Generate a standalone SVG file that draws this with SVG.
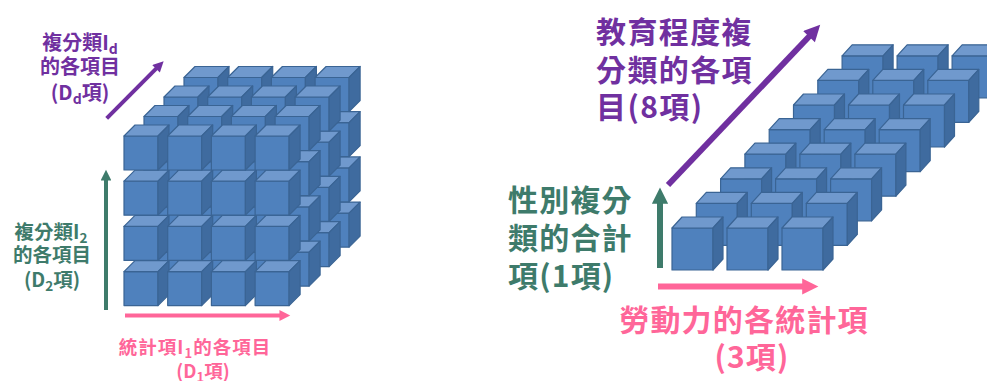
<svg xmlns="http://www.w3.org/2000/svg" width="987" height="381" viewBox="0 0 987 381">
<style>
.front{fill:#4F81BD}
.top{fill:#7099CD}
.side{fill:#3F6B9F}
.cube *{stroke:#3A6494;stroke-width:1.2;stroke-linejoin:round}
.t{font-family:"Noto Sans CJK TC","Noto Sans CJK SC",sans-serif;font-weight:700}
.purple{fill:#7030A0}
.green{fill:#3E7B6B}
.pink{fill:#FF6699}
</style>
<defs>
<g id="cubeL" class="cube">
<rect class="front" x="0" y="0" width="34" height="34"/>
<polygon class="top" points="0,0 11,-11 45,-11 34,0"/>
<polygon class="side" points="34,0 45,-11 45,23 34,34"/>
</g>
<g id="cubeR" class="cube">
<rect class="front" x="0" y="0" width="41" height="42"/>
<polygon class="top" points="0,0 10,-11 51,-11 41,0"/>
<polygon class="side" points="41,0 51,-11 51,31 41,42"/>
</g>
<marker id="ahP" viewBox="0 0 10 10" refX="0.5" refY="5" markerWidth="3" markerHeight="2.7" orient="auto"><path d="M0,0 L10,5 L0,10 z" fill="#7030A0"/></marker>
<marker id="ahG" viewBox="0 0 10 10" refX="0.5" refY="5" markerWidth="3" markerHeight="2.7" orient="auto"><path d="M0,0 L10,5 L0,10 z" fill="#3E7B6B"/></marker>
<marker id="ahK" viewBox="0 0 10 10" refX="0.5" refY="5" markerWidth="3" markerHeight="2.7" orient="auto"><path d="M0,0 L10,5 L0,10 z" fill="#FF6699"/></marker>
</defs>

<g id="cube-4x4x4">
<!-- layer 3 -->
<use href="#cubeL" x="184" y="213.1"/><use href="#cubeL" x="227.7" y="213.1"/><use href="#cubeL" x="271.4" y="213.1"/><use href="#cubeL" x="315.1" y="213.1"/>
<use href="#cubeL" x="184" y="167.9"/><use href="#cubeL" x="227.7" y="167.9"/><use href="#cubeL" x="271.4" y="167.9"/><use href="#cubeL" x="315.1" y="167.9"/>
<use href="#cubeL" x="184" y="122.7"/><use href="#cubeL" x="227.7" y="122.7"/><use href="#cubeL" x="271.4" y="122.7"/><use href="#cubeL" x="315.1" y="122.7"/>
<use href="#cubeL" x="184" y="77.5"/><use href="#cubeL" x="227.7" y="77.5"/><use href="#cubeL" x="271.4" y="77.5"/><use href="#cubeL" x="315.1" y="77.5"/>
<!-- layer 2 -->
<use href="#cubeL" x="164" y="232.6"/><use href="#cubeL" x="207.7" y="232.6"/><use href="#cubeL" x="251.4" y="232.6"/><use href="#cubeL" x="295.1" y="232.6"/>
<use href="#cubeL" x="164" y="187.4"/><use href="#cubeL" x="207.7" y="187.4"/><use href="#cubeL" x="251.4" y="187.4"/><use href="#cubeL" x="295.1" y="187.4"/>
<use href="#cubeL" x="164" y="142.2"/><use href="#cubeL" x="207.7" y="142.2"/><use href="#cubeL" x="251.4" y="142.2"/><use href="#cubeL" x="295.1" y="142.2"/>
<use href="#cubeL" x="164" y="97"/><use href="#cubeL" x="207.7" y="97"/><use href="#cubeL" x="251.4" y="97"/><use href="#cubeL" x="295.1" y="97"/>
<!-- layer 1 -->
<use href="#cubeL" x="144" y="252.1"/><use href="#cubeL" x="187.7" y="252.1"/><use href="#cubeL" x="231.4" y="252.1"/><use href="#cubeL" x="275.1" y="252.1"/>
<use href="#cubeL" x="144" y="206.9"/><use href="#cubeL" x="187.7" y="206.9"/><use href="#cubeL" x="231.4" y="206.9"/><use href="#cubeL" x="275.1" y="206.9"/>
<use href="#cubeL" x="144" y="161.7"/><use href="#cubeL" x="187.7" y="161.7"/><use href="#cubeL" x="231.4" y="161.7"/><use href="#cubeL" x="275.1" y="161.7"/>
<use href="#cubeL" x="144" y="116.5"/><use href="#cubeL" x="187.7" y="116.5"/><use href="#cubeL" x="231.4" y="116.5"/><use href="#cubeL" x="275.1" y="116.5"/>
<!-- layer 0 (front) -->
<use href="#cubeL" x="124" y="271.6"/><use href="#cubeL" x="167.7" y="271.6"/><use href="#cubeL" x="211.4" y="271.6"/><use href="#cubeL" x="255.1" y="271.6"/>
<use href="#cubeL" x="124" y="226.4"/><use href="#cubeL" x="167.7" y="226.4"/><use href="#cubeL" x="211.4" y="226.4"/><use href="#cubeL" x="255.1" y="226.4"/>
<use href="#cubeL" x="124" y="181.2"/><use href="#cubeL" x="167.7" y="181.2"/><use href="#cubeL" x="211.4" y="181.2"/><use href="#cubeL" x="255.1" y="181.2"/>
<use href="#cubeL" x="124" y="136"/><use href="#cubeL" x="167.7" y="136"/><use href="#cubeL" x="211.4" y="136"/><use href="#cubeL" x="255.1" y="136"/>
</g>

<g id="slab-3x1x8">
<use href="#cubeR" x="842.1" y="55.8"/><use href="#cubeR" x="897.1" y="55.8"/><use href="#cubeR" x="952.1" y="55.8"/>
<use href="#cubeR" x="817.8" y="80.4"/><use href="#cubeR" x="872.8" y="80.4"/><use href="#cubeR" x="927.8" y="80.4"/>
<use href="#cubeR" x="793.5" y="105"/><use href="#cubeR" x="848.5" y="105"/><use href="#cubeR" x="903.5" y="105"/>
<use href="#cubeR" x="769.2" y="129.6"/><use href="#cubeR" x="824.2" y="129.6"/><use href="#cubeR" x="879.2" y="129.6"/>
<use href="#cubeR" x="744.9" y="154.2"/><use href="#cubeR" x="799.9" y="154.2"/><use href="#cubeR" x="854.9" y="154.2"/>
<use href="#cubeR" x="720.6" y="178.8"/><use href="#cubeR" x="775.6" y="178.8"/><use href="#cubeR" x="830.6" y="178.8"/>
<use href="#cubeR" x="696.3" y="203.4"/><use href="#cubeR" x="751.3" y="203.4"/><use href="#cubeR" x="806.3" y="203.4"/>
<use href="#cubeR" x="672" y="228"/><use href="#cubeR" x="727" y="228"/><use href="#cubeR" x="782" y="228"/>
</g>

<g id="connectors" fill="none">
<line x1="106.7" y1="118.3" x2="156.4" y2="68.4" stroke="#7030A0" stroke-width="4" marker-end="url(#ahP)"/>
<line x1="106" y1="310" x2="106" y2="180" stroke="#3E7B6B" stroke-width="4" marker-end="url(#ahG)"/>
<line x1="125" y1="315.5" x2="280" y2="315.5" stroke="#FF6699" stroke-width="4" marker-end="url(#ahK)"/>
<line x1="668" y1="185" x2="809.6" y2="36" stroke="#7030A0" stroke-width="6" marker-end="url(#ahP)"/>
<line x1="660" y1="268" x2="660" y2="203" stroke="#3E7B6B" stroke-width="6" marker-end="url(#ahG)"/>
<line x1="658" y1="286.5" x2="803" y2="286.5" stroke="#FF6699" stroke-width="6" marker-end="url(#ahK)"/>
</g>

<g id="label-d" class="t purple" font-size="20" text-anchor="middle">
<text x="80" y="50">複分類I<tspan font-size="14" dy="4">d</tspan></text>
<text x="80" y="74">的各項目</text>
<text x="80" y="100">(D<tspan font-size="14" dy="4">d</tspan><tspan dy="-4">項)</tspan></text>
</g>
<g id="label-2" class="t green" font-size="19.5" text-anchor="middle">
<text x="51" y="239">複分類I<tspan font-size="13.5" dy="4">2</tspan></text>
<text x="52" y="262">的各項目</text>
<text x="52" y="287">(D<tspan font-size="13.5" dy="4">2</tspan><tspan dy="-4">項)</tspan></text>
</g>
<g id="label-1" class="t pink" font-size="18.5" text-anchor="middle">
<text x="195" y="354" letter-spacing="1">統計項I<tspan font-size="13" dy="4">1</tspan><tspan dy="-4">的各項目</tspan></text>
<text x="203" y="378">(D<tspan font-size="13" dy="4">1</tspan><tspan dy="-4">項)</tspan></text>
</g>
<g id="label-edu" class="t purple" font-size="30" letter-spacing="1.4">
<text x="596" y="43">教育程度複</text>
<text x="596" y="81">分類的各項</text>
<text x="596" y="118">目(8項)</text>
</g>
<g id="label-sex" class="t green" font-size="30" letter-spacing="1.2">
<text x="508" y="211">性別複分</text>
<text x="508" y="249">類的合計</text>
<text x="508" y="287">項(1項)</text>
</g>
<g id="label-labor" class="t pink" font-size="30" text-anchor="middle" letter-spacing="1.2">
<text x="744" y="331">勞動力的各統計項</text>
<text x="752" y="368">(3項)</text>
</g>
</svg>
